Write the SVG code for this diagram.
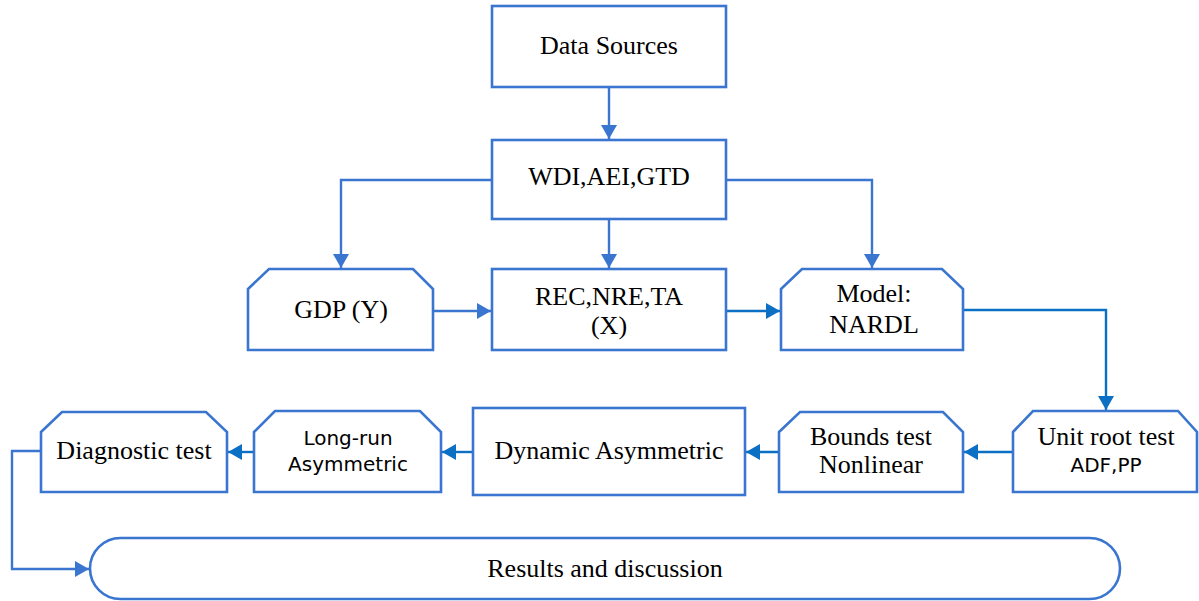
<svg xmlns="http://www.w3.org/2000/svg" width="1199" height="601" viewBox="0 0 1199 601">
  <style>
    .box { fill: #ffffff; stroke: #3a76cf; stroke-width: 2.6; }
    .wire { fill: none; stroke: #3a76cf; stroke-width: 2.4; }
    .wire2 { fill: none; stroke: #0b6fc4; stroke-width: 2.4; }
    .serif { font-family: "Liberation Serif", "Times New Roman", serif; font-size: 26px; fill: #000; text-anchor: middle; }
    .sans { font-family: "DejaVu Sans", "Liberation Sans", sans-serif; font-size: 20px; fill: #000; text-anchor: middle; }
  </style>
  <defs>
    <marker id="arrow" markerUnits="userSpaceOnUse" markerWidth="15" markerHeight="16" refX="14" refY="8" orient="auto">
      <path d="M0,0 L14,8 L0,16 Z" fill="#3a76cf"/>
    </marker>
    <marker id="arrow2" markerUnits="userSpaceOnUse" markerWidth="15" markerHeight="16" refX="14" refY="8" orient="auto">
      <path d="M0,0 L14,8 L0,16 Z" fill="#0b6fc4"/>
    </marker>
  </defs>

  <g id="connectors">
    <path class="wire" d="M609,87 V139" marker-end="url(#arrow)"/>
    <path class="wire" d="M609,219 V268" marker-end="url(#arrow)"/>
    <path class="wire" d="M492,180 H341 V268" marker-end="url(#arrow)"/>
    <path class="wire" d="M726,180 H872 V268" marker-end="url(#arrow)"/>
    <path class="wire" d="M433,311 H491" marker-end="url(#arrow)"/>
    <path class="wire2" d="M726,311 H780" marker-end="url(#arrow2)"/>
    <path class="wire2" d="M963,310 H1106 V410" marker-end="url(#arrow2)"/>
    <path class="wire2" d="M1013,452 H964" marker-end="url(#arrow2)"/>
    <path class="wire2" d="M779,452 H746" marker-end="url(#arrow2)"/>
    <path class="wire2" d="M473,452 H442" marker-end="url(#arrow2)"/>
    <path class="wire2" d="M254,452 H228" marker-end="url(#arrow2)"/>
    <path class="wire" d="M41,451 H12 V569 H89" marker-end="url(#arrow)"/>
  </g>

  <g id="data-sources">
    <rect class="box" x="492" y="6" width="234" height="81"/>
    <text class="serif" x="609" y="54">Data Sources</text>
  </g>

  <g id="wdi">
    <rect class="box" x="492" y="140" width="234" height="79"/>
    <text class="serif" x="609" y="185">WDI,AEI,GTD</text>
  </g>

  <g id="gdp">
    <path class="box" d="M248,289 L269,269 H413 L433,289 V350 H248 Z"/>
    <text class="serif" x="341" y="318">GDP (Y)</text>
  </g>

  <g id="rec">
    <rect class="box" x="492" y="269" width="234" height="81"/>
    <text class="serif" x="609" y="305">REC,NRE,TA</text>
    <text class="serif" x="609" y="334">(X)</text>
  </g>

  <g id="model">
    <path class="box" d="M781,289 L802,269 H942 L963,289 V350 H781 Z"/>
    <text class="serif" x="874" y="302">Model:</text>
    <text class="serif" x="874" y="333">NARDL</text>
  </g>

  <g id="unit-root">
    <path class="box" d="M1013,432 L1033,411 H1178 L1197,432 V492 H1013 Z"/>
    <text class="serif" x="1106" y="445">Unit root test</text>
    <text class="sans" x="1106" y="472">ADF,PP</text>
  </g>

  <g id="bounds">
    <path class="box" d="M779,432 L800,412 H943 L963,432 V492 H779 Z"/>
    <text class="serif" x="871" y="445">Bounds test</text>
    <text class="serif" x="871" y="473">Nonlinear</text>
  </g>

  <g id="dynamic">
    <rect class="box" x="473" y="408" width="272" height="87"/>
    <text class="serif" x="609" y="459">Dynamic Asymmetric</text>
  </g>

  <g id="long-run">
    <path class="box" d="M254,432 L275,411 H420 L441,432 V492 H254 Z"/>
    <text class="sans" x="348" y="445">Long-run</text>
    <text class="sans" x="348" y="471">Asymmetric</text>
  </g>

  <g id="diagnostic">
    <path class="box" d="M41,432 L62,412 H206 L227,432 V492 H41 Z"/>
    <text class="serif" x="134" y="459">Diagnostic test</text>
  </g>

  <g id="results">
    <rect class="box" x="90" y="538" width="1030" height="61" rx="30.5" ry="30.5"/>
    <text class="serif" x="605" y="577">Results and discussion</text>
  </g>
</svg>
